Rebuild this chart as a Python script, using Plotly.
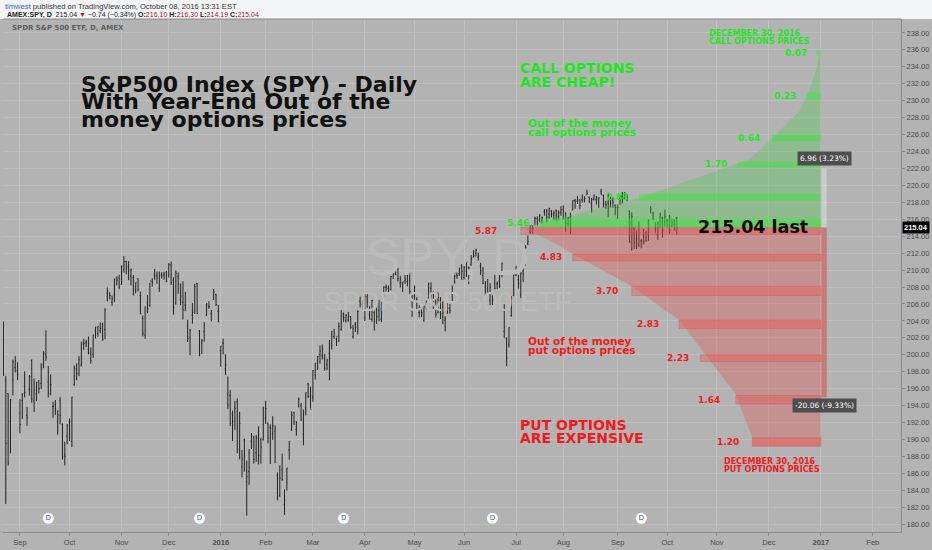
"""SPY daily bars with year-end out-of-the-money option price ladders (Plotly)."""

import pandas as pd
import plotly.graph_objects as go

# ---- daily bars, Aug 21 2015 .. Oct 7 2016 ----
holidays = ["2015-09-07", "2015-11-26", "2015-12-25", "2016-01-01", "2016-01-18",
            "2016-02-15", "2016-03-25", "2016-05-30", "2016-07-04", "2016-09-05"]
bar_dates = [d for d in pd.bdate_range("2015-08-21", "2016-10-07")
             if d.strftime("%Y-%m-%d") not in holidays]

opens = [
    201.73, 197.02, 195.43, 192.08, 197.02, 198.50, 198.11,
    193.12, 194.62, 196.26, 192.85, 195.94, 199.32, 194.56, 195.38, 196.95, 196.61, 198.82,
    200.02, 196.79, 196.44, 193.88, 194.11, 192.15, 194.64, 191.78, 188.24, 190.40,
    192.08, 189.77, 196.46, 198.31, 198.99, 198.83, 201.38, 201.42, 200.65, 200.18, 200.08,
    202.83, 202.50, 202.85, 203.61, 202.98, 207.25, 207.30, 206.19, 207.08, 208.35, 209.06,
    208.32, 210.00, 211.02, 210.46, 209.29, 209.11, 207.59, 208.98, 206.99, 204.27, 202.34,
    206.11, 205.83, 208.66, 209.51, 209.39, 207.87, 209.50, 209.43, 209.75,
    209.44, 210.61, 208.83, 206.10, 209.23, 206.51, 206.19, 205.87, 203.35, 202.07, 204.70,
    206.37, 208.40, 202.77, 201.41, 202.72, 204.69, 205.72, 204.86, 206.51, 207.11, 205.13,
    200.49, 201.40, 198.34, 195.33, 195.19, 193.01, 193.82, 194.45, 189.55, 186.77, 189.96,
    185.03, 186.21, 189.78, 190.29, 188.42, 190.19, 189.96, 190.02,
    192.53, 191.96, 191.41, 190.71, 190.99, 185.77, 183.36, 186.41, 182.34, 184.96, 188.77,
    191.16, 193.20, 191.17, 193.87, 194.00, 190.63, 193.73, 196.57, 195.11,
    195.01, 197.61, 198.97, 200.03, 199.90, 199.59, 198.85, 200.17, 201.02, 202.15, 201.80,
    201.60, 203.01, 204.86, 204.07, 204.11, 204.52, 202.13, 203.61, 202.76, 206.30, 205.91,
    204.35, 206.86, 204.75, 204.19, 205.00, 205.30, 205.26, 204.20, 206.96, 207.94, 207.80,
    207.67, 209.74, 209.55, 210.12, 208.47, 208.46, 208.74, 208.65, 208.73, 206.91,
    206.92, 206.52, 205.00, 205.57, 204.06, 205.57, 206.72, 207.87, 207.28, 206.21, 204.96,
    206.46, 204.44, 204.06, 204.92, 205.49, 206.17, 208.67, 209.44, 209.55, 210.56,
    209.12, 209.87, 210.36, 210.70, 211.53, 211.95, 211.51, 210.51, 209.36, 208.00, 207.75,
    206.44, 207.12, 208.44, 208.37, 208.67, 209.86, 202.74, 201.89, 201.25, 204.63, 207.00,
    209.40, 208.87, 207.07, 209.89, 210.69, 213.16, 214.50, 215.23, 216.07, 216.07, 215.99,
    215.90, 216.89, 216.95, 216.62, 216.96, 216.49, 217.05, 216.30, 216.77,
    217.19, 216.65, 215.48, 216.31, 217.09, 218.23, 218.13, 218.31, 218.26, 218.29, 218.88,
    218.60, 217.84, 218.34, 218.31, 218.27, 219.25, 218.80, 217.40, 217.92, 217.44, 218.26, 217.61,
    217.37, 218.39, 218.70, 218.84, 218.62, 216.97, 212.39, 214.84, 213.29, 212.96, 213.48,
    214.12, 214.41, 214.24, 217.00, 216.72, 215.02, 214.18, 215.82, 216.16, 215.65,
    215.82, 216.39, 215.22, 215.40, 216.10,
]
highs = [
    203.94, 197.48, 195.45, 194.79, 199.42, 199.84, 199.13,
    194.77, 195.46, 198.05, 193.86, 197.61, 199.47, 197.22, 196.82, 197.01, 198.99, 200.41,
    202.89, 198.68, 197.68, 194.46, 194.67, 193.45, 195.00, 191.91, 189.74, 191.83,
    192.49, 195.03, 198.74, 198.98, 199.83, 201.55, 201.90, 201.76, 202.16, 200.87, 202.36,
    203.29, 203.37, 203.84, 203.79, 205.51, 207.95, 207.37, 207.00, 208.98, 209.27, 209.44,
    210.56, 211.65, 211.10, 211.06, 210.20, 209.41, 208.54, 209.05, 207.47, 204.64, 205.69,
    207.04, 208.52, 209.05, 210.12, 209.84, 209.83, 209.74, 209.80, 209.89,
    210.82, 211.00, 209.15, 209.97, 209.73, 208.43, 208.68, 207.43, 204.14, 203.05, 206.10,
    208.39, 208.48, 202.93, 201.88, 203.85, 206.07, 206.33, 205.26, 207.79, 207.21, 205.89,
    201.03, 201.90, 200.06, 197.44, 195.85, 193.41, 194.55, 194.86, 193.26, 188.76, 190.11,
    187.50, 188.87, 190.76, 190.42, 190.53, 191.56, 190.20, 193.88,
    194.58, 191.97, 191.78, 192.75, 191.67, 186.12, 186.94, 188.34, 184.10, 186.65, 189.81,
    193.32, 193.27, 192.18, 194.95, 194.32, 193.53, 195.55, 196.68, 196.23,
    198.21, 199.01, 199.85, 201.10, 201.22, 200.12, 199.53, 201.76, 202.76, 203.07, 202.05,
    203.82, 205.27, 205.00, 204.80, 205.04, 204.56, 203.51, 203.86, 205.25, 206.87, 206.41,
    207.14, 207.16, 205.74, 206.49, 205.22, 206.20, 206.50, 206.26, 208.09, 208.28, 208.17,
    209.30, 210.20, 210.92, 210.25, 209.32, 208.60, 209.49, 209.80, 209.67, 207.30,
    208.18, 206.80, 205.85, 205.98, 205.77, 206.40, 208.50, 208.54, 207.50, 206.85, 207.34,
    206.80, 206.30, 204.54, 206.10, 206.00, 208.19, 209.77, 209.71, 210.25, 210.69,
    210.48, 210.86, 210.37, 211.77, 212.34, 212.52, 212.04, 210.86, 210.37, 208.70, 208.96,
    208.44, 207.24, 209.42, 208.66, 209.57, 210.87, 205.96, 202.06, 203.23, 206.93, 209.81,
    210.49, 209.44, 209.72, 210.38, 212.95, 214.07, 215.30, 215.30, 216.30, 216.35, 216.60,
    216.32, 217.18, 217.22, 217.37, 217.07, 217.03, 217.16, 217.03, 217.54,
    217.65, 216.83, 216.25, 216.78, 218.23, 218.40, 218.76, 218.40, 218.94, 218.71, 219.50,
    218.68, 218.52, 218.90, 218.75, 218.59, 219.60, 218.91, 218.19, 219.12, 218.67, 218.59, 217.75,
    217.73, 218.87, 219.22, 219.22, 218.94, 217.03, 216.81, 215.15, 214.70, 215.73, 213.69,
    214.85, 214.59, 216.03, 217.53, 216.88, 215.67, 215.74, 216.77, 216.30, 217.13,
    216.04, 216.52, 216.05, 216.01, 216.30,
]
lows = [
    197.52, 182.40, 186.92, 188.37, 195.21, 197.92, 197.01,
    190.73, 192.42, 194.96, 191.61, 195.17, 194.35, 193.25, 194.53, 195.43, 195.96, 198.41,
    199.28, 194.96, 195.21, 192.56, 192.91, 190.56, 191.81, 187.64, 186.93, 189.44,
    189.82, 189.12, 196.33, 197.00, 197.48, 198.59, 200.58, 200.91, 200.05, 198.94, 199.64,
    201.92, 202.13, 202.55, 201.65, 201.85, 206.30, 206.56, 205.79, 206.21, 208.21, 207.74,
    208.26, 209.70, 209.50, 208.80, 208.20, 206.99, 207.24, 207.48, 204.80, 202.16, 201.88,
    204.91, 205.66, 208.04, 208.86, 208.38, 207.41, 209.01, 208.86, 208.56,
    209.11, 208.23, 204.75, 205.93, 207.20, 205.84, 204.18, 205.14, 201.51, 199.95, 203.68,
    204.82, 204.84, 199.83, 200.09, 201.55, 204.58, 205.42, 203.94, 206.47, 205.76, 203.87,
    198.59, 200.05, 197.60, 193.59, 191.58, 189.82, 191.14, 188.38, 187.66, 185.52, 186.20,
    181.02, 184.64, 188.88, 187.16, 187.34, 187.06, 187.16, 189.88,
    191.84, 189.54, 187.10, 189.96, 187.20, 182.80, 183.20, 185.12, 181.09, 183.96, 187.63,
    191.01, 191.72, 190.45, 193.79, 192.18, 189.32, 192.83, 194.90, 193.66,
    194.45, 197.07, 198.21, 198.95, 199.43, 198.12, 198.19, 196.98, 200.63, 201.88, 201.03,
    201.55, 202.84, 203.88, 203.80, 203.90, 203.08, 201.92, 202.71, 202.40, 205.59, 205.33,
    203.98, 205.54, 204.16, 203.91, 202.84, 203.64, 204.04, 203.85, 206.84, 207.47, 207.37,
    207.61, 208.94, 209.39, 208.65, 207.96, 207.41, 208.36, 208.07, 207.08, 204.48,
    206.41, 205.28, 204.42, 204.47, 203.88, 205.36, 206.64, 206.50, 205.34, 204.41, 204.89,
    204.23, 203.63, 202.78, 204.86, 204.86, 206.14, 208.40, 208.97, 209.32, 208.86,
    208.89, 209.20, 208.35, 210.51, 211.50, 211.59, 211.13, 209.43, 208.35, 206.93, 207.21,
    205.86, 205.87, 207.75, 207.76, 207.88, 209.14, 201.99, 198.65, 200.86, 204.49, 206.91,
    209.27, 207.82, 206.68, 208.60, 210.52, 212.95, 214.27, 214.28, 215.29, 215.26, 215.64,
    215.50, 216.41, 215.61, 216.03, 216.22, 215.91, 215.78, 215.88, 216.41,
    215.90, 214.53, 215.13, 214.25, 217.07, 217.23, 217.80, 217.18, 217.95, 217.99, 218.88,
    217.96, 216.78, 218.21, 217.74, 217.35, 218.90, 217.36, 217.22, 216.25, 217.40, 217.35, 216.47,
    216.03, 217.70, 217.87, 218.30, 218.15, 213.25, 212.31, 212.50, 212.50, 212.75, 212.57,
    213.03, 213.38, 213.44, 216.71, 215.88, 214.41, 213.57, 215.01, 213.84, 215.14,
    215.03, 214.25, 215.10, 214.64, 214.19,
]
closes = [
    197.63, 189.55, 187.23, 194.68, 199.16, 199.28, 197.67,
    191.77, 195.41, 195.55, 192.59, 197.43, 194.79, 195.85, 196.74, 196.01, 198.46, 200.18,
    199.73, 195.45, 196.46, 193.91, 193.60, 192.90, 192.85, 187.97, 188.01, 191.63,
    192.13, 195.00, 198.47, 197.79, 199.41, 201.21, 201.33, 201.52, 200.25, 199.29, 202.35,
    203.27, 203.37, 203.11, 201.85, 205.26, 207.51, 207.00, 206.60, 208.95, 208.83, 207.93,
    210.39, 211.00, 210.36, 209.97, 210.04, 208.08, 208.56, 207.74, 204.84, 202.54, 205.62,
    205.47, 208.73, 208.55, 209.31, 209.07, 209.35, 209.32, 209.56, 208.69,
    210.68, 208.53, 205.61, 209.62, 208.35, 206.95, 205.34, 205.87, 201.88, 202.90, 205.03,
    208.03, 204.86, 200.02, 201.67, 203.50, 206.02, 205.68, 205.21, 207.40, 205.93, 203.87,
    201.02, 201.36, 198.82, 194.05, 191.92, 192.11, 193.66, 188.83, 191.93, 187.81, 188.06,
    185.65, 186.69, 190.52, 187.64, 190.20, 188.13, 189.11, 193.72,
    193.65, 190.16, 191.30, 191.60, 187.95, 185.42, 185.43, 185.27, 182.86, 186.63, 189.78,
    192.88, 192.09, 192.00, 194.78, 192.32, 193.20, 195.54, 195.09, 193.56,
    198.11, 199.00, 199.78, 200.43, 200.59, 198.40, 199.38, 199.54, 202.76, 202.50, 202.17,
    203.34, 204.63, 204.38, 204.67, 204.56, 203.21, 203.12, 203.24, 205.12, 206.02, 205.52,
    206.92, 206.25, 204.19, 206.42, 203.95, 204.50, 204.02, 205.92, 208.00, 208.01, 207.78,
    209.24, 209.90, 210.10, 208.97, 208.97, 208.61, 208.92, 209.35, 207.45, 206.33,
    207.97, 206.16, 205.01, 204.97, 205.72, 205.89, 208.45, 206.50, 206.56, 204.76, 206.78,
    204.85, 204.91, 204.20, 205.49, 205.21, 207.87, 209.28, 209.34, 210.24, 209.84,
    210.27, 210.91, 210.28, 211.35, 211.68, 212.37, 211.68, 209.92, 208.45, 207.50, 207.31,
    207.96, 206.52, 207.85, 208.44, 208.10, 210.81, 203.24, 199.60, 203.20, 206.66, 209.48,
    209.92, 208.41, 209.66, 209.53, 212.65, 213.40, 214.95, 214.92, 216.12, 215.83, 216.41,
    216.19, 217.09, 216.27, 217.24, 216.65, 216.75, 216.52, 216.77, 217.12,
    216.94, 215.55, 216.18, 216.41, 218.18, 218.05, 218.18, 217.64, 218.65, 218.46, 219.09,
    217.96, 218.37, 218.86, 218.54, 218.53, 218.97, 217.85, 217.70, 217.29, 218.36, 218.00, 217.38,
    217.39, 218.37, 219.03, 219.01, 218.51, 213.28, 216.34, 213.23, 213.15, 215.28, 213.37,
    213.41, 213.42, 215.82, 217.18, 215.99, 214.24, 215.57, 216.64, 214.68, 216.30,
    215.78, 214.68, 215.63, 215.78, 215.04,
]

last_price = 215.04
dividend_dates = ["2015-09-18", "2015-12-18", "2016-03-18", "2016-06-17", "2016-09-16"]

month_ticks = ["2015-09-01", "2015-10-01", "2015-11-02", "2015-12-01", "2016-01-04",
               "2016-02-01", "2016-03-01", "2016-04-01", "2016-05-02", "2016-06-01",
               "2016-07-01", "2016-08-01", "2016-09-01", "2016-10-03", "2016-11-01",
               "2016-12-01", "2017-01-02", "2017-02-01"]
month_labels = ["Sep", "Oct", "Nov", "Dec", "<b>2016</b>", "Feb", "Mar", "Apr", "May", "Jun",
                "Jul", "Aug", "Sep", "Oct", "Nov", "Dec", "<b>2017</b>", "Feb"]
price_ticks = list(range(180, 240, 2))

# ---- Dec 30 2016 option ladders (drawn from the last price out to expiry) ----
ladder_start = "2016-07-06"
ladder_end = "2017-01-02"

call_labels = ["5.46", "2.88", "1.70", "0.64", "0.23", "0.07"]
call_band_lo = [215.04, 218.2, 222.15, 225.2, 230.1, 235.3]
call_band_hi = [216.1, 219.0, 222.8, 226.0, 230.95, 236.0]
call_band_start = ["2016-07-18", "2016-09-15", "2016-11-14", "2016-12-02", "2016-12-23", "2016-12-29"]
call_curve_x = ["2016-07-06", "2016-09-15", "2016-11-02", "2016-11-21", "2016-12-06",
                "2016-12-20", "2016-12-26", "2016-12-29", "2017-01-02"]
call_curve_y = [215.04, 218.5, 221.8, 223.1, 226.0, 228.8, 231.1, 233.7, 236.2]

put_labels = ["5.87", "4.83", "3.70", "2.83", "2.23", "1.64", "1.20"]
put_band_hi = [215.04, 211.9, 208.1, 204.1, 200.0, 195.2, 190.2]
put_band_lo = [214.2, 211.1, 207.0, 203.1, 199.2, 194.2, 189.2]
put_band_start = ["2016-07-06", "2016-08-05", "2016-09-12", "2016-10-10", "2016-10-21",
                  "2016-11-11", "2016-11-22"]
put_curve_x = ["2016-07-06", "2016-07-21", "2016-08-05", "2016-09-12", "2016-10-10",
               "2016-10-25", "2016-11-11", "2016-11-22", "2016-11-22"]
put_curve_y = [215.04, 213.7, 211.9, 208.1, 204.1, 200.0, 195.3, 190.2, 189.2]

measure_up = 6.96
measure_down = -20.06

GREEN = "#1be81b"
RED = "#f01a1a"
BG = "#b3b3b3"

fig = go.Figure()

# watermark behind everything
fig.add_trace(go.Scatter(
    x=["2016-05-20", "2016-05-20"], y=[211.0, 206.0], mode="text",
    text=["SPY, D", "SPDR S&P 500 ETF"],
    textfont=dict(family="Liberation Sans", size=[52, 27], color="#bbbbbb"),
    hoverinfo="skip", showlegend=False))

# put envelope
fig.add_trace(go.Scatter(
    x=put_curve_x + [ladder_end, ladder_end, ladder_start],
    y=put_curve_y + [put_curve_y[-1], last_price, last_price],
    fill="toself", fillcolor="rgba(235,70,70,0.31)", line=dict(width=0),
    mode="lines", hoverinfo="skip", showlegend=False))
# call envelope
fig.add_trace(go.Scatter(
    x=call_curve_x + [ladder_end, ladder_start],
    y=call_curve_y + [last_price, last_price],
    fill="toself", fillcolor="rgba(70,205,70,0.32)", line=dict(width=0),
    mode="lines", hoverinfo="skip", showlegend=False))

for x0, lo, hi in zip(put_band_start, put_band_lo, put_band_hi):
    fig.add_trace(go.Scatter(
        x=[x0, ladder_end, ladder_end, x0, x0], y=[lo, lo, hi, hi, lo],
        fill="toself", fillcolor="rgba(240,70,70,0.34)",
        line=dict(width=0.6, color="rgba(225,70,70,0.55)"),
        mode="lines", hoverinfo="skip", showlegend=False))
for x0, lo, hi in zip(call_band_start, call_band_lo, call_band_hi):
    fig.add_trace(go.Scatter(
        x=[x0, ladder_end, ladder_end, x0, x0], y=[lo, lo, hi, hi, lo],
        fill="toself", fillcolor="rgba(40,240,40,0.40)", line=dict(width=0),
        mode="lines", hoverinfo="skip", showlegend=False))

# price-range measure bars at expiry
m_x = ["2017-01-02 06:00", "2017-01-04 12:00"]
fig.add_trace(go.Scatter(
    x=[m_x[0], m_x[1], m_x[1], m_x[0], m_x[0]],
    y=[last_price, last_price, last_price + measure_up, last_price + measure_up, last_price],
    fill="toself", fillcolor="rgba(230,236,230,0.45)", line=dict(width=0),
    mode="lines", hoverinfo="skip", showlegend=False))
fig.add_trace(go.Scatter(
    x=[m_x[0], m_x[1], m_x[1], m_x[0], m_x[0]],
    y=[last_price, last_price, last_price + measure_down, last_price + measure_down, last_price],
    fill="toself", fillcolor="rgba(215,80,80,0.6)", line=dict(width=0),
    mode="lines", hoverinfo="skip", showlegend=False))

# the bars
fig.add_trace(go.Ohlc(
    x=bar_dates, open=opens, high=highs, low=lows, close=closes,
    increasing_line_color="#222222", decreasing_line_color="#222222",
    line=dict(width=1), tickwidth=0.35, hoverinfo="skip", showlegend=False))

# dividend markers
fig.add_trace(go.Scatter(
    x=dividend_dates, y=[180.7] * len(dividend_dates), mode="markers+text",
    text=["D"] * len(dividend_dates), textposition="middle center",
    textfont=dict(size=7, color="#4a5aa0", family="DejaVu Sans"),
    marker=dict(size=11, color="white", line=dict(width=0)),
    hoverinfo="skip", showlegend=False))

annotations = []


def note(x, y, text, size, color, xref="x", yref="y", xanchor="left", family="DejaVu Sans", **kw):
    annotations.append(dict(x=x, y=y, xref=xref, yref=yref, text=text, showarrow=False,
                            xanchor=xanchor, yanchor="middle",
                            font=dict(family=family, size=size, color=color), **kw))


# header strip
note(0, 1.025, "<span style='color:#2a6ebb'>timwest</span> published on TradingView.com, "
     "October 08, 2016 13:31 EST", 7.6, "#333", xref="paper", yref="paper",
     family="Liberation Sans")
note(0.002, 1.0087,
     "<b>AMEX:SPY, D</b>  215.04 <span style='color:#b0171f'>▼</span> −0.74 (−0.34%) "
     "<b>O:</b><span style='color:#b0171f'>216.10</span> <b>H:</b><span style='color:#b0171f'>216.30</span> "
     "<b>L:</b><span style='color:#b0171f'>214.19</span> <b>C:</b><span style='color:#b0171f'>215.04</span>",
     7, "#222", xref="paper", yref="paper", family="Liberation Sans")
note(0.0078, 0.9826, "<b>SPDR S&P 500 ETF, D, AMEX</b>", 7, "#5f5f5f", xref="paper", yref="paper")

# title block
for yy, line in zip([0.872, 0.839, 0.804],
                    ["S&P500 Index (SPY) - Daily", "With Year-End Out of the",
                     "money options prices"]):
    note(0.085, yy, "<b>%s</b>" % line, 22, "#111", xref="paper", yref="paper")

# call side texts
note("2016-07-05", 233.8, "<b>CALL OPTIONS</b>", 14, GREEN)
note("2016-07-05", 232.25, "<b>ARE CHEAP!</b>", 14, GREEN)
note("2016-07-08", 227.4, "<b>Out of the money</b>", 10.5, GREEN)
note("2016-07-08", 226.3, "<b>call options prices</b>", 10.5, GREEN)
note("2016-10-26", 237.95, "<b>DECEMBER 30, 2016</b>", 8, GREEN)
note("2016-10-26", 237.0, "<b>CALL OPTIONS PRICES</b>", 8, GREEN)

# put side texts
note("2016-07-05", 191.75, "<b>PUT OPTIONS</b>", 14, RED)
note("2016-07-05", 190.2, "<b>ARE EXPENSIVE</b>", 14, RED)
note("2016-07-08", 201.6, "<b>Out of the money</b>", 10.5, RED)
note("2016-07-08", 200.55, "<b>put options prices</b>", 10.5, RED)
note("2016-11-03", 187.45, "<b>DECEMBER 30, 2016</b>", 8, RED)
note("2016-11-03", 186.5, "<b>PUT OPTIONS PRICES</b>", 8, RED)

# ladder price labels, just left of each band
call_shift = [-9, -9, -9, -9, -9, -7]
put_shift = [-22, -9, -12, -18, -9, -14, -11]
for lab, x0, lo, hi, sh in zip(call_labels, call_band_start, call_band_lo, call_band_hi, call_shift):
    note(x0, (lo + hi) / 2, "<b>%s</b>" % lab, 9, GREEN, xanchor="right", xshift=sh)
for lab, x0, lo, hi, sh in zip(put_labels, put_band_start, put_band_lo, put_band_hi, put_shift):
    note(x0, (lo + hi) / 2, "<b>%s</b>" % lab, 9, RED, xanchor="right", xshift=sh)

note("2016-10-19", last_price, "<b>215.04 last</b>", 17.5, "#0a0a0a")

# measure labels
for yy, txt in [(223.2, "6.96 (3.23%)"), (194.0, "-20.06 (-9.33%)")]:
    note("2017-01-03 18:00", yy, txt, 7.5, "white", xanchor="center",
         bgcolor="#4e4e4e", borderpad=2)

# last price tag on the axis
note(1, last_price, "<b>215.04</b>", 7.5, "white", xref="paper", bgcolor="#050505",
     borderpad=1, xshift=1, family="Liberation Sans")

fig.update_layout(
    width=932, height=550,
    margin=dict(l=3, r=30, t=19, b=15),
    paper_bgcolor=BG, plot_bgcolor=BG,
    showlegend=False,
    annotations=annotations,
    shapes=[
        dict(type="rect", xref="paper", yref="paper", x0=-0.01, x1=1.04, y0=1.0, y1=1.05,
             fillcolor="#f4f5f7", line=dict(width=0), layer="below"),
        dict(type="line", xref="paper", yref="paper", x0=0, x1=1, y0=1, y1=1,
             line=dict(color="#8a8a8a", width=1)),
    ],
    xaxis=dict(
        type="date",
        range=["2015-08-20 20:00", "2017-02-16 22:30"],
        rangebreaks=[dict(bounds=["sat", "mon"]), dict(values=holidays)],
        rangeslider=dict(visible=False),
        tickvals=month_ticks, ticktext=month_labels,
        tickfont=dict(family="Liberation Sans", size=7.5, color="#4a4a4a"),
        gridcolor="#c0c0c0", gridwidth=1,
        showline=True, linecolor="#8a8a8a", ticks="outside", ticklen=3, tickcolor="#8a8a8a",
        zeroline=False,
    ),
    yaxis=dict(
        side="right",
        range=[179.08, 239.64],
        tickvals=price_ticks, ticktext=["%.2f" % v for v in price_ticks],
        tickfont=dict(family="Liberation Sans", size=7.5, color="#4a4a4a"),
        gridcolor="#bdbdbd", gridwidth=1,
        showline=True, linecolor="#8a8a8a", ticks="outside", ticklen=3, tickcolor="#8a8a8a",
        zeroline=False,
    ),
)

# page body margin would push the 932x550 figure off the window
fig.write_html("out.html", config={"displayModeBar": False},
               post_script="document.body.style.margin='0';")
